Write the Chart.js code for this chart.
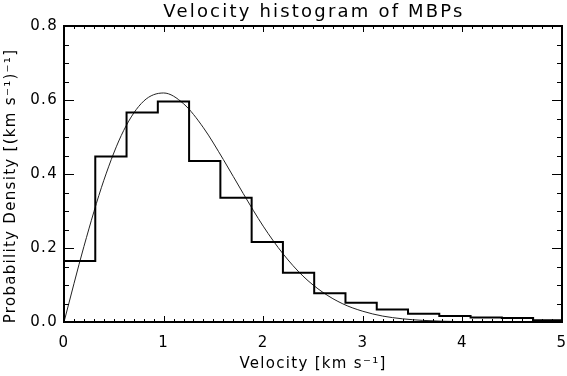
<!DOCTYPE html>
<html>
<head>
<meta charset="utf-8">
<script src="https://cdn.jsdelivr.net/npm/chart.js@4/dist/chart.umd.min.js"></script>
<style>
    html, body { margin: 0; padding: 0; background: #fff; }
    #chart { display: block; }
</style>
</head>
<body>
<canvas id="chart" width="567" height="376"></canvas>
<script>
// ==========================================
// DATA
// ==========================================

// left edges of the histogram bins [km/s]
const binStarts = [0, 0.314, 0.628, 0.942, 1.256, 1.570, 1.884, 2.198,
                   2.512, 2.826, 3.140, 3.454, 3.768, 4.082, 4.396, 4.710];
// probability density of each bin
const binDensity = [0.165, 0.447, 0.566, 0.596, 0.435, 0.336, 0.216, 0.133,
                    0.078, 0.052, 0.034, 0.022, 0.016, 0.012, 0.011, 0.005];

// fitted distribution curve, sampled along velocity
const curveVelocity = [0, 0.2, 0.4, 0.6, 0.8, 1.0, 1.2, 1.4, 1.6, 1.8, 2.0,
                       2.2, 2.4, 2.6, 2.8, 3.0, 3.2, 3.4, 3.6, 3.8, 4.0, 4.5, 5.0];
const curveDensity = [0, 0.204, 0.383, 0.518, 0.597, 0.619, 0.590, 0.525, 0.439,
                      0.347, 0.259, 0.184, 0.124, 0.080, 0.049, 0.029, 0.016,
                      0.0086, 0.0044, 0.0021, 0.0010, 0.0001, 0];

const xTicks = [0, 1, 2, 3, 4, 5];
const yTicks = [0, 0.2, 0.4, 0.6, 0.8];
const xMinorStep = 0.1;
const yMinorStep = 0.05;

const TITLE = 'Velocity histogram of MBPs';
const X_TITLE = 'Velocity [km s⁻¹]';
const Y_TITLE = 'Probability Density [(km s⁻¹)⁻¹]';
const FONT = "'DejaVu Sans', 'Liberation Sans', sans-serif";

// ==========================================
// DATASETS
// ==========================================

const binWidth = binStarts[1] - binStarts[0];
const histPoints = binStarts.map((x, i) => ({ x: x, y: binDensity[i] }));
histPoints.push({
    x: binStarts[binStarts.length - 1] + binWidth,
    y: binDensity[binDensity.length - 1]
});

const curvePoints = curveVelocity.map((x, i) => ({ x: x, y: curveDensity[i] }));

// ==========================================
// WIDE LETTERING (the original uses a wide vector font)
// ==========================================

const wideText = {
    id: 'wideText',
    beforeDraw(chart) {
        chart.ctx.letterSpacing = '1.3px';
    },
    afterDraw(chart) {
        const { ctx, chartArea: a } = chart;
        ctx.save();
        ctx.fillStyle = '#000';
        ctx.textAlign = 'center';

        // plot title
        ctx.letterSpacing = '2.2px';
        ctx.font = '18px ' + FONT;
        ctx.textBaseline = 'alphabetic';
        ctx.fillText(TITLE, (a.left + a.right) / 2 + 1, 16.5);

        // y axis title, sits a bit low like the original
        ctx.letterSpacing = '1.3px';
        ctx.font = '15px ' + FONT;
        ctx.textBaseline = 'middle';
        ctx.translate(11, (a.top + a.bottom) / 2 + 12);
        ctx.rotate(-Math.PI / 2);
        ctx.fillText(Y_TITLE, 0, 0);
        ctx.restore();
    }
};

// ==========================================
// FRAME + INWARD TICKS (IDL style box)
// ==========================================

const boxTicks = {
    id: 'boxTicks',
    afterDatasetsDraw(chart) {
        const { ctx, chartArea: a, scales } = chart;
        const xs = scales.x, ys = scales.y;
        ctx.save();
        ctx.strokeStyle = '#000';
        ctx.lineWidth = 1;

        ctx.beginPath();
        // x ticks, bottom and top
        const nx = Math.round((xTicks[xTicks.length - 1] - xTicks[0]) / xMinorStep);
        for (let i = 0; i <= nx; i++) {
            const v = xTicks[0] + i * xMinorStep;
            const px = Math.round(xs.getPixelForValue(v)) + 0.5;
            const len = (i % 10 === 0) ? 6 : 3;
            ctx.moveTo(px, a.bottom); ctx.lineTo(px, a.bottom - len);
            ctx.moveTo(px, a.top); ctx.lineTo(px, a.top + len);
        }
        // y ticks, left and right
        const ny = Math.round((yTicks[yTicks.length - 1] - yTicks[0]) / yMinorStep);
        for (let i = 0; i <= ny; i++) {
            const v = yTicks[0] + i * yMinorStep;
            const py = Math.round(ys.getPixelForValue(v)) + 0.5;
            const len = (i % 4 === 0) ? 10 : 5;
            ctx.moveTo(a.left, py); ctx.lineTo(a.left + len, py);
            ctx.moveTo(a.right, py); ctx.lineTo(a.right - len, py);
        }
        ctx.stroke();

        ctx.lineWidth = 2;
        ctx.strokeRect(a.left, a.top, a.right - a.left, a.bottom - a.top);
        ctx.restore();
    }
};

// ==========================================
// CHART
// ==========================================

new Chart(document.getElementById('chart'), {
    type: 'line',
    data: {
        datasets: [{
            label: 'Histogram',
            data: histPoints,
            stepped: 'before',
            borderColor: '#000',
            borderWidth: 2,
            pointRadius: 0,
            fill: false
        }, {
            label: 'Fit',
            data: curvePoints,
            cubicInterpolationMode: 'monotone',
            borderColor: '#222',
            borderWidth: 1,
            pointRadius: 0,
            fill: false
        }]
    },
    options: {
        responsive: false,
        animation: false,
        devicePixelRatio: 1,
        layout: { padding: { left: 0, right: 5, top: 26, bottom: 0 } },
        plugins: {
            legend: { display: false },
            tooltip: { enabled: false },
            title: { display: false }
        },
        scales: {
            x: {
                type: 'linear',
                min: xTicks[0],
                max: xTicks[xTicks.length - 1],
                afterBuildTicks: s => { s.ticks = xTicks.map(v => ({ value: v })); },
                afterFit: s => {
                    s.height = 54;
                    s.paddingLeft = 0;
                    s.paddingRight = 0;
                },
                grid: { display: false, drawTicks: false, tickLength: 0 },
                border: { display: false },
                ticks: {
                    color: '#000',
                    padding: 12,
                    maxRotation: 0,
                    font: { family: FONT, size: 15 },
                    callback: v => String(v)
                },
                title: {
                    display: true,
                    text: X_TITLE,
                    color: '#000',
                    font: { family: FONT, size: 15, lineHeight: 1.2 },
                    padding: { top: 0, bottom: 3 }
                }
            },
            y: {
                type: 'linear',
                min: yTicks[0],
                max: yTicks[yTicks.length - 1],
                afterBuildTicks: s => { s.ticks = yTicks.map(v => ({ value: v })); },
                afterFit: s => {
                    s.width = 64;
                    s.paddingTop = 0;
                    s.paddingBottom = 0;
                },
                grid: { display: false, drawTicks: false, tickLength: 0 },
                border: { display: false },
                ticks: {
                    color: '#000',
                    padding: 6,
                    font: { family: FONT, size: 15 },
                    callback: v => v.toFixed(1)
                },
                title: { display: false }
            }
        }
    },
    plugins: [wideText, boxTicks]
});
</script>
</body>
</html>
